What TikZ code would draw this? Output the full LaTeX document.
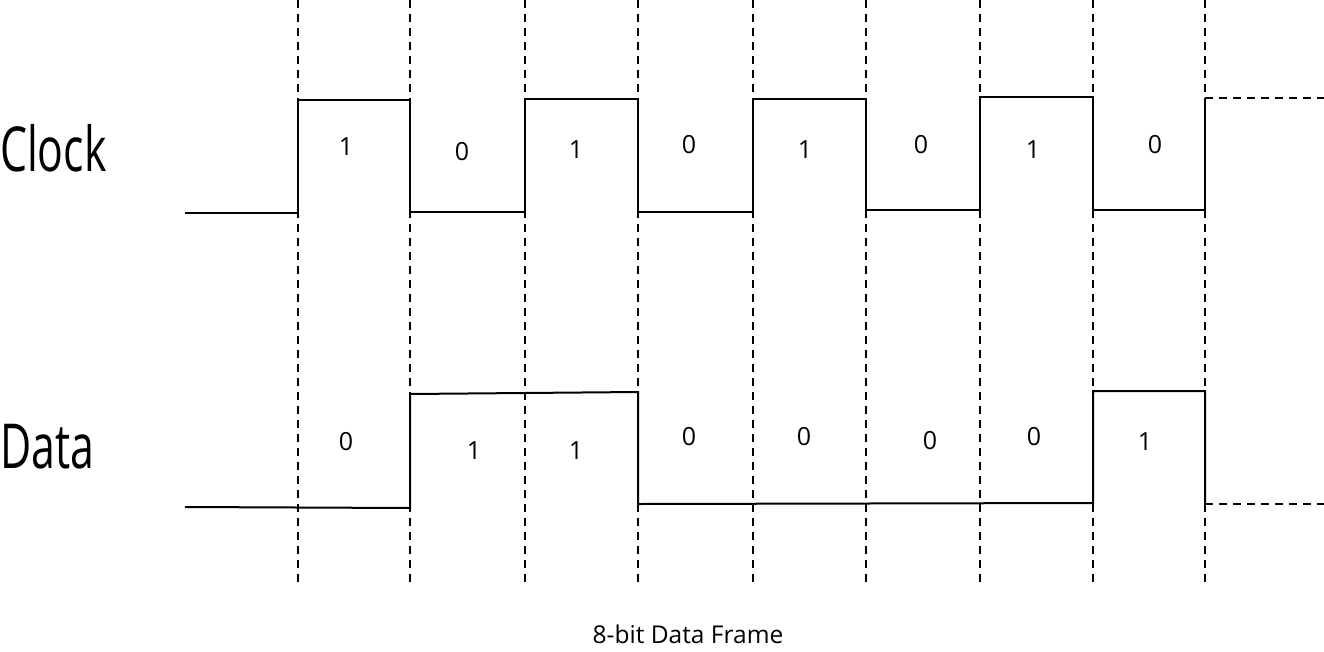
\documentclass[tikz,border=0pt]{standalone}
\usepackage{fontspec}
\setmainfont{Open Sans}
\usetikzlibrary{positioning}

\begin{document}
\begin{tikzpicture}[x=1pt, y=-1pt,
            signal/.style={line width=2pt, line join=miter},
            grid line/.style={line width=1.8pt, dash pattern=on 8pt off 6pt},
            tail/.style={line width=1.8pt, dash pattern=on 8pt off 6pt},
            name label/.style={font=\fontsize{62}{62}\selectfont, xscale=0.69, anchor=west, inner sep=0pt},
            bit/.style={font=\fontsize{25}{25}\selectfont, inner sep=0pt}
        ]
            \useasboundingbox (0,0) rectangle (1324,651);

            % bit boundaries
            \foreach \x in {298,410,525,638,753,866,980,1093,1205}
                \draw [grid line] (\x,0) -- (\x,583);

            % clock line
            \draw [signal] (185,213) -- (298,213) -- (298,100) -- (410,100) -- (410,212)
                -- (525,212) -- (525,99) -- (638,99) -- (638,212) -- (753,212) -- (753,99)
                -- (866,99) -- (866,210) -- (980,210) -- (980,97) -- (1093,97) -- (1093,210)
                -- (1205,210) -- (1205,98) coordinate (clockend);
            \coordinate (clockfree) at (1324,98);
            \draw [tail] (clockend) -- (clockfree);

            % data line
            \draw [signal] (185,507) -- (410,508) -- (410,394) -- (638,392) -- (638,504)
                -- (1093,503) -- (1093,391) -- (1205,391) -- (1205,504) coordinate (dataend);
            \coordinate (datafree) at (1324,504);
            \draw [tail] (dataend) -- (datafree);

            \node [name label] (clock) at (0,148) {Clock};
            \node [name label] (data) at (0,447) {Data};

            \node [bit] (c1) at (346,147) {1};
            \node [bit] (c2) at (462,152) {0};
            \node [bit] (c3) at (576,150) {1};
            \node [bit] (c4) at (689,145) {0};
            \node [bit] (c5) at (805,150) {1};
            \node [bit] (c6) at (921,145) {0};
            \node [bit] (c7) at (1033,150) {1};
            \node [bit] (c8) at (1155,145) {0};

            \node [bit] (d1) at (346,442) {0};
            \node [bit] (d2) at (474,451) {1};
            \node [bit] (d3) at (576,451) {1};
            \node [bit] (d4) at (689,437) {0};
            \node [bit] (d5) at (804,437) {0};
            \node [bit] (d6) at (930,441) {0};
            \node [bit] (d7) at (1034,437) {0};
            \node [bit] (d8) at (1145,442) {1};

            \node [bit, font=\fontsize{24.5}{24.5}\selectfont] (frame) at (688,634) {8-bit Data Frame};

        \end{tikzpicture}
\end{document}
